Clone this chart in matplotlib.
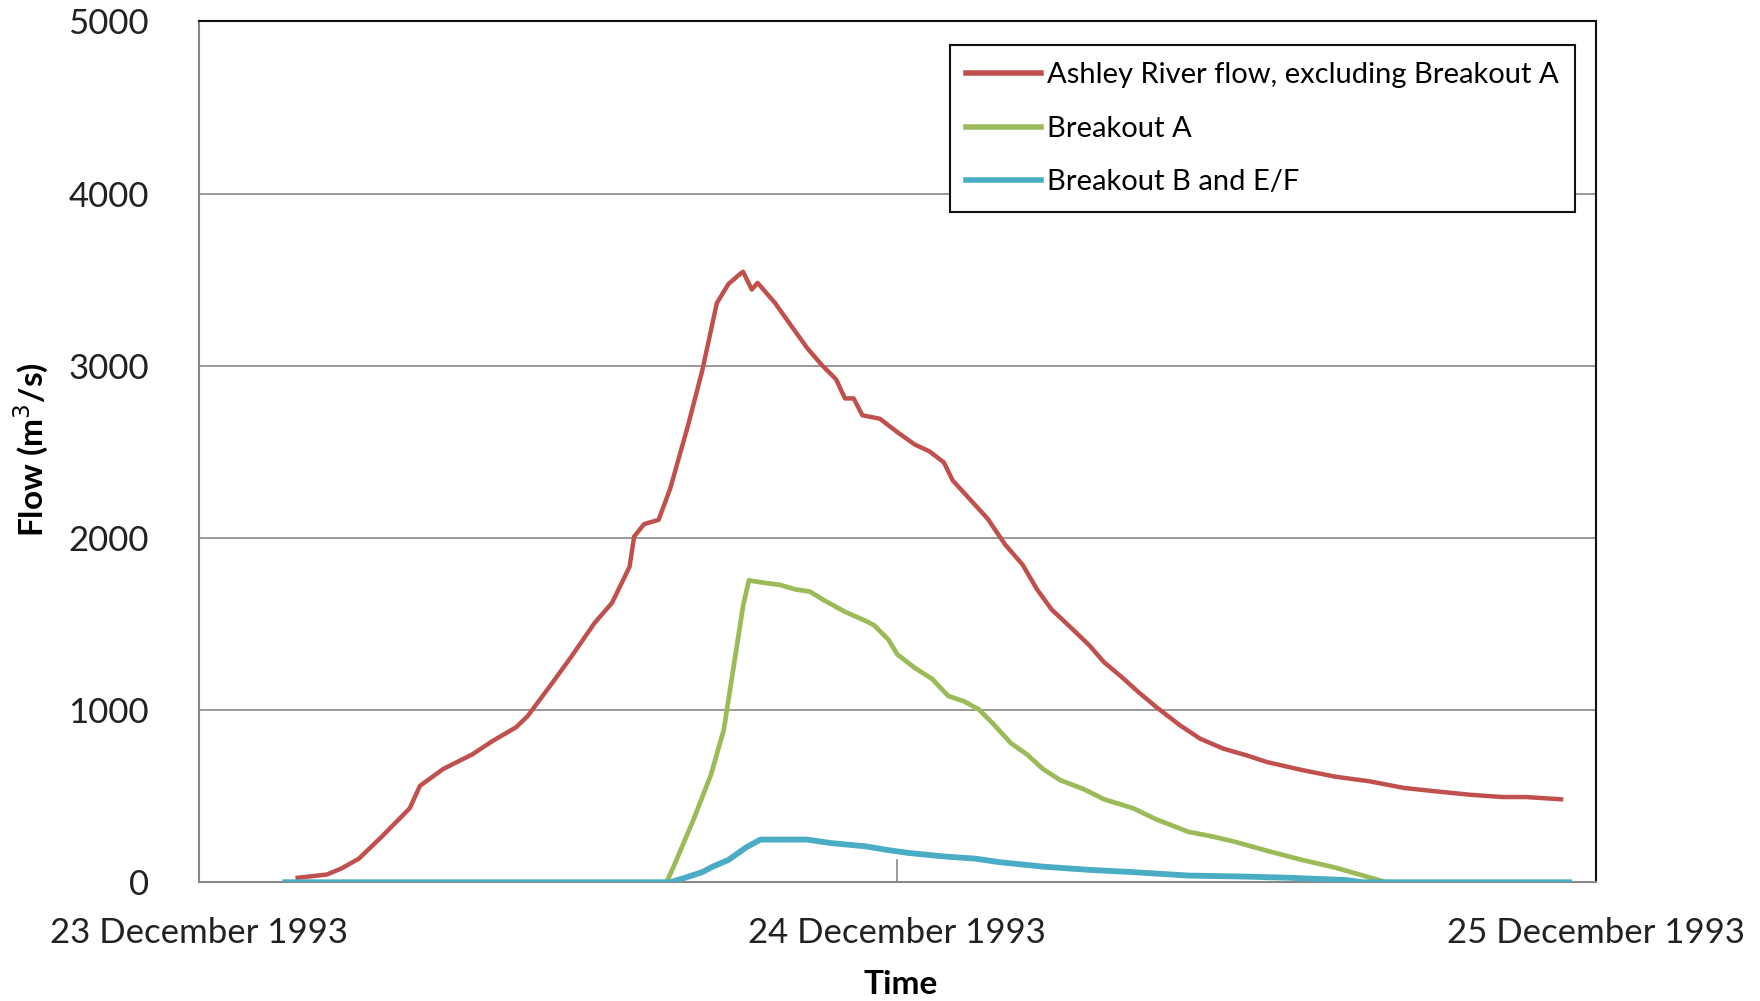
import matplotlib
matplotlib.use("Agg")
import matplotlib.pyplot as plt

# Hours since 00:00 23 December 1993
red_t = [3.4, 4.4, 4.9, 5.5, 6.3, 7.25, 7.6, 8.4, 9.4, 10.1, 10.9, 11.3, 12.1, 12.8, 13.6, 14.2,
         14.8, 14.96, 15.3, 15.8, 16.2, 16.8, 17.3, 17.8, 18.2, 18.6, 18.7, 19.0, 19.2, 19.8, 20.35,
         20.9, 21.4, 21.9, 22.2, 22.5, 22.8, 23.4, 24.0, 24.6, 25.1, 25.6, 25.9, 26.5, 27.1, 27.7,
         28.3, 28.8, 29.3, 30.0, 30.6, 31.1, 31.7, 32.3, 32.9, 33.7, 34.4, 35.2, 36.0, 36.7, 37.9,
         39.05, 40.2, 41.4, 42.5, 43.7, 44.8, 45.6, 46.8]
red_q = [26, 45, 80, 137, 267, 430, 560, 658, 743, 821, 900, 965, 1147, 1310, 1506, 1623,
         1832, 2008, 2080, 2105, 2288, 2647, 2973, 3364, 3475, 3533, 3546, 3442, 3481, 3364, 3233,
         3103, 3005, 2920, 2810, 2810, 2712, 2692, 2614, 2542, 2503, 2438, 2334, 2223, 2112, 1962,
         1845, 1701, 1584, 1473, 1375, 1278, 1193, 1102, 1017, 913, 834, 776, 737, 698, 652,
         613, 587, 548, 528, 508, 495, 495, 482]

green_t = [3.0, 16.07, 16.3, 17.0, 17.6, 18.04, 18.4, 18.7, 18.9, 19.4, 19.97, 20.5, 21.0, 21.5,
           22.2, 22.9, 23.2, 23.7, 24.0, 24.6, 25.2, 25.75, 26.3, 26.8, 27.3, 27.9, 28.45, 29.0,
           29.6, 30.4, 31.1, 32.1, 32.9, 34.0, 34.8, 35.6, 36.7, 37.9, 39.05, 40.0, 40.8, 47.0]
green_q = [0, 0, 85, 365, 626, 887, 1278, 1604, 1753, 1740, 1727, 1701, 1688, 1636,
           1571, 1519, 1493, 1408, 1323, 1245, 1180, 1082, 1050, 1004, 919, 808, 743, 658,
           593, 541, 482, 430, 365, 293, 267, 235, 183, 130, 85, 39, 0, 0]

cyan_t = [2.97, 16.2, 16.7, 17.3, 17.66, 18.2, 18.8, 19.3, 20.2, 20.9, 21.7, 22.9, 23.6, 24.4,
          25.6, 26.7, 27.5, 29.0, 30.6, 32.1, 34.0, 36.0, 37.5, 39.4, 40.0, 47.07]
cyan_q = [0, 0, 26, 59, 91, 130, 202, 248, 248, 248, 228, 209, 189, 170,
          150, 137, 117, 91, 72, 59, 39, 33, 26, 13, 0, 0]

series_names = ["Ashley River flow, excluding Breakout A", "Breakout A", "Breakout B and E/F"]
x_ticks = [0, 24, 48]
x_tick_labels = ["23 December 1993", "24 December 1993", "25 December 1993"]
y_ticks = [0, 1000, 2000, 3000, 4000, 5000]

plt.rcParams['font.family'] = ['Lato', 'DejaVu Sans']

fig = plt.figure(figsize=(17.6, 10.01), dpi=100)
ax = fig.add_axes([0.1129, 0.1186, 0.7939, 0.8601])

grid_c = "#888888"
for yv in y_ticks[1:-1]:
    ax.axhline(yv, color=grid_c, lw=1.2, zorder=1)

ax.plot(red_t, red_q, color="#C0504D", lw=3.2, label=series_names[0], zorder=3, solid_joinstyle="round")
ax.plot(green_t, green_q, color="#9BBB59", lw=3.4, label=series_names[1], zorder=3, solid_joinstyle="round")
ax.plot(cyan_t, cyan_q, color="#4BACC6", lw=4.2, label=series_names[2], zorder=4, solid_joinstyle="round")

ax.set_xlim(0, 48)
ax.set_ylim(0, 5000)
ax.set_xticks(x_ticks)
ax.set_xticklabels(x_tick_labels)
ax.set_yticks(y_ticks)
ax.set_yticklabels([str(v) for v in y_ticks])
ax.tick_params(axis="both", length=0, labelsize=25, colors="#222222")
ax.tick_params(axis="y", pad=36)
ax.tick_params(axis="x", pad=25)
# small inner tick at 24 December
ax.plot([24, 24], [0, 130], color=grid_c, lw=1.2, zorder=2)

ax.spines["left"].set_color(grid_c)
ax.spines["left"].set_linewidth(1.5)
ax.spines["bottom"].set_color(grid_c)
ax.spines["bottom"].set_linewidth(1.5)
ax.spines["top"].set_color("#111111")
ax.spines["top"].set_linewidth(1.5)
ax.spines["right"].set_color("#111111")
ax.spines["right"].set_linewidth(1.5)

fig.text(0.5115, 0.0165, "Time", fontsize=24, fontweight="bold", ha="center", va="center")
fig.text(0.018, 0.551, "Flow (m$^3$/s)", fontsize=24, fontweight="bold", ha="center", va="center",
         rotation=90)

leg = ax.legend(loc="upper right", bbox_to_anchor=(0.985, 0.972), fontsize=21,
                frameon=True, fancybox=False, edgecolor="#111111", framealpha=1,
                handlelength=2.55, handletextpad=0.2, labelspacing=0.95,
                borderpad=0.57, borderaxespad=0)
leg.get_frame().set_linewidth(1.5)
for h in leg.get_lines():
    h.set_linewidth(4.0)

fig.savefig("out.png", dpi=100, facecolor="white")
